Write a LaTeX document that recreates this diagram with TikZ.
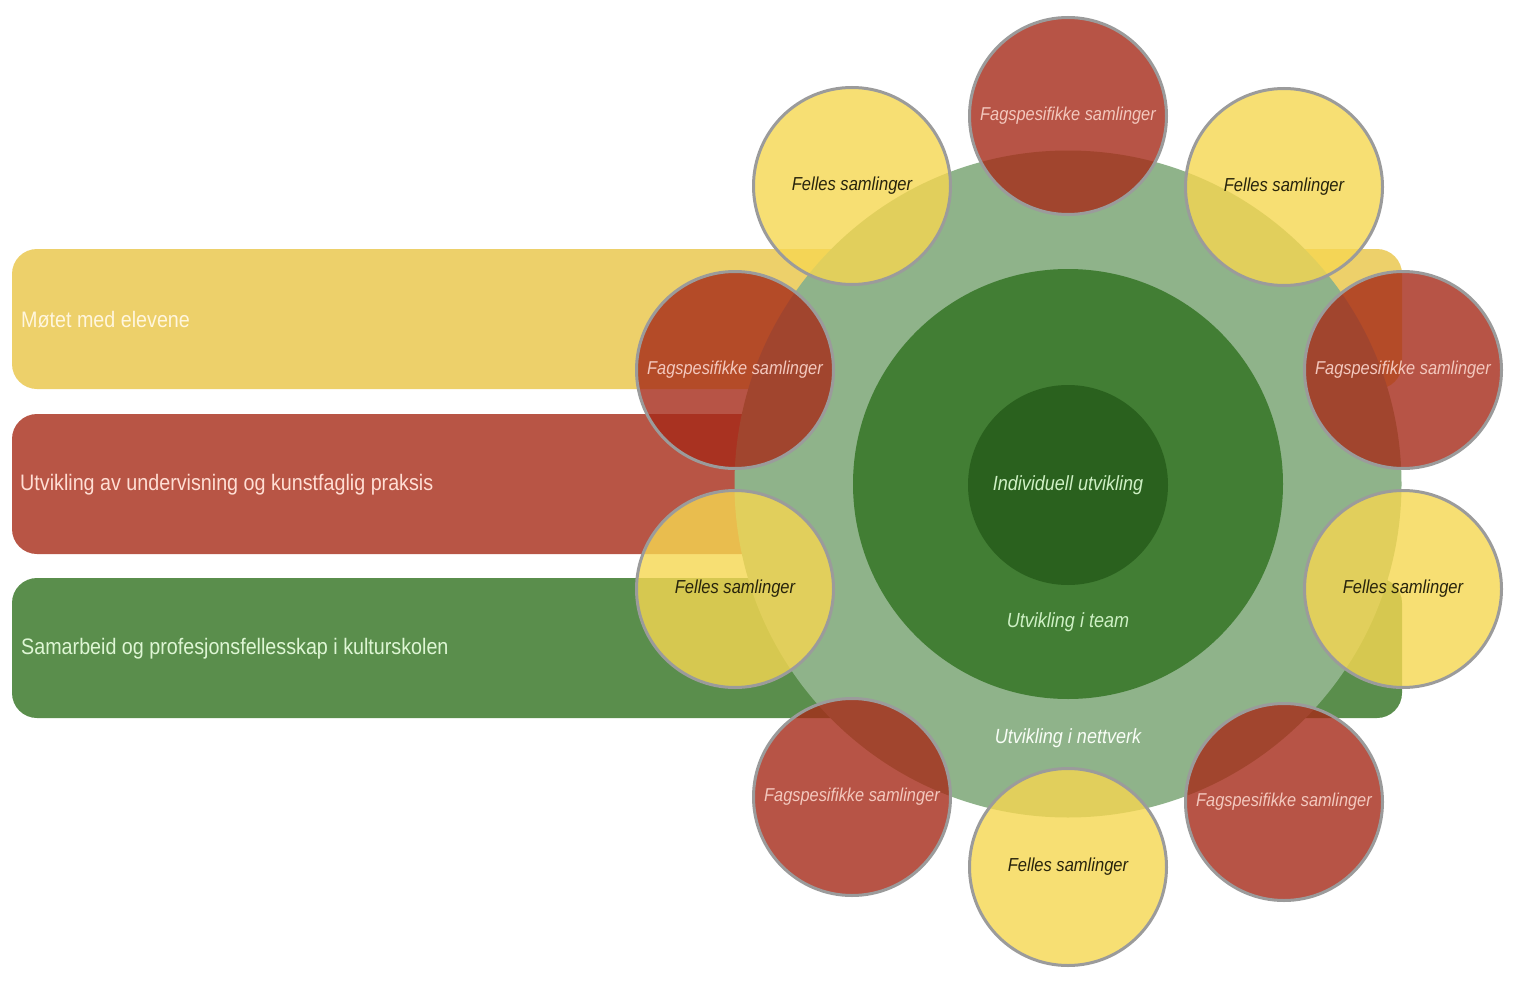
\documentclass[tikz,border=0pt]{standalone}
\usepackage{fontspec}
\newfontfamily\lab[FakeStretch=0.88]{Liberation Sans}
\definecolor{barY}{RGB}{237,208,106}
\definecolor{barR}{RGB}{184,85,69}
\definecolor{barG}{RGB}{90,142,76}
\definecolor{ringL}{RGB}{143,179,138}
\definecolor{ringM}{RGB}{66,126,52}
\definecolor{ringI}{RGB}{42,97,30}
\definecolor{cY}{RGB}{246,215,81}
\definecolor{cR}{RGB}{166,42,24}
\definecolor{cEdge}{RGB}{155,155,155}
\definecolor{tY}{RGB}{255,246,222}
\definecolor{tR}{RGB}{255,222,212}
\definecolor{tG}{RGB}{222,246,212}
\definecolor{tC}{RGB}{206,240,196}
\definecolor{tRc}{RGB}{243,200,190}
\definecolor{tYc}{RGB}{40,36,12}
\tikzset{
  bar/.style={rectangle, rounded corners=25pt, minimum width=1390pt, minimum height=140pt, inner sep=0pt, draw=none},
  bartext/.style={anchor=west, inner sep=0pt, font=\lab\fontsize{22.4}{26}\selectfont},
  sc/.style={circle, minimum size=197pt, inner sep=0pt, draw=cEdge, line width=3pt, fill opacity=0.8, text opacity=1},
  fag/.style={sc, fill=cR, text=tRc, font=\lab\itshape\fontsize{18.6}{22}\selectfont},
  fel/.style={sc, fill=cY, text=tYc, font=\lab\itshape\fontsize{18.8}{22}\selectfont},
  ring/.style={circle, inner sep=0pt, draw=none},
  ctext/.style={inner sep=0pt, font=\lab\itshape\fontsize{20.5}{24}\selectfont, text=tC}
}
\begin{document}
\begin{tikzpicture}[x=1pt,y=-1pt]
\useasboundingbox[fill=white] (0,0) rectangle (1516,982);
% bars
\node[bar, fill=barY] (barY) at (707,319) {};
\node[bar, fill=barR, minimum width=1370pt] (barR) at (697,484) {};
\node[bar, fill=barG] (barG) at (707,648) {};
\node[bartext, text=tY] (lY) at (21,320) {Møtet med elevene};
\node[bartext, text=tR] (lR) at (20,485) {Utvikling av undervisning og kunstfaglig praksis};
\node[bartext, text=tG] (lG) at (21,649) {Samarbeid og profesjonsfellesskap i kulturskolen};
% rings
\node[ring, fill=ringL, minimum size=667pt] (net) at (1068,484) {};
\node[ring, fill=ringM, minimum size=430pt] (team) at (1068,484) {};
\node[ring, fill=ringI, minimum size=200pt] (ind) at (1068,485) {};
\node[ctext] (tind) at (1068,485) {Individuell utvikling};
\node[ctext] (tteam) at (1068,622) {Utvikling i team};
\node[ctext, text=white!85!tC] (tnet) at (1068,738) {Utvikling i nettverk};
% small circles
\node[fag] (c1) at (1068,116) {Fagspesifikke samlinger};
\node[fel] (c2) at (1284,187) {Felles samlinger};
\node[fag] (c3) at (1403,370) {Fagspesifikke samlinger};
\node[fel] (c4) at (1403,589) {Felles samlinger};
\node[fag] (c5) at (1284,802) {Fagspesifikke samlinger};
\node[fel] (c6) at (1068,867) {Felles samlinger};
\node[fag] (c7) at (852,797) {Fagspesifikke samlinger};
\node[fel] (c8) at (735,589) {Felles samlinger};
\node[fag] (c9) at (735,370) {Fagspesifikke samlinger};
\node[fel] (c10) at (852,186) {Felles samlinger};
\end{tikzpicture}
\end{document}
